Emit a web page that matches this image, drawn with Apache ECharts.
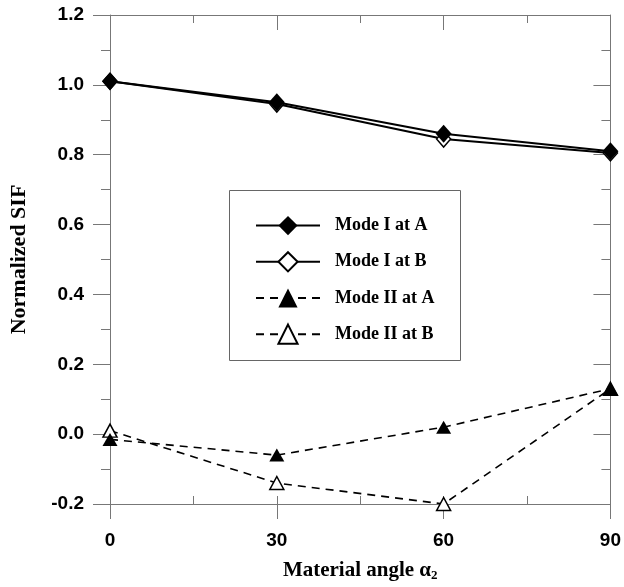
<!DOCTYPE html>
<html>
<head>
<meta charset="utf-8">
<script src="https://cdn.jsdelivr.net/npm/echarts@6/dist/echarts.min.js"></script>
<style>
  html, body { margin: 0; padding: 0; background: #fff; }
  #chart { width: 624px; height: 587px; }
</style>
</head>
<body>
<div id="chart"></div>
<script>
// material angle alpha2 (deg)
const angles = [0, 30, 60, 90];
// normalized SIF values
const modeIA = [1.01, 0.95, 0.86, 0.81];
const modeIB = [1.01, 0.945, 0.845, 0.805];
const modeIIA = [-0.015, -0.06, 0.02, 0.13];
const modeIIB = [0.01, -0.14, -0.2, 0.13];
const seriesNames = ['Mode I at A', 'Mode I at B', 'Mode II at A', 'Mode II at B'];

const axisColor = '#777';
const pairs = (ys) => angles.map((x, i) => [x, ys[i]]);

// one axis per tick style (major out / minor in etc.)
const xAx = (pos, interval, inside, len, showLabel, showLine) => ({
  type: 'value', position: pos, min: 0, max: 90, interval: interval,
  axisLine: { show: showLine, onZero: false, lineStyle: { color: axisColor, width: 1 } },
  axisTick: { show: true, inside: inside, length: len, lineStyle: { color: axisColor } },
  axisLabel: { show: showLabel, margin: 27, color: '#000', fontFamily: 'Liberation Sans', fontWeight: 'bold', fontSize: 19 },
  splitLine: { show: false }
});
const yAx = (pos, interval, inside, len, showLabel, showLine) => ({
  type: 'value', position: pos, min: -0.2, max: 1.2, interval: interval,
  axisLine: { show: showLine, onZero: false, lineStyle: { color: axisColor, width: 1 } },
  axisTick: { show: true, inside: inside, length: len, lineStyle: { color: axisColor } },
  axisLabel: { show: showLabel, margin: 26, color: '#000', fontFamily: 'Liberation Sans', fontWeight: 'bold', fontSize: 19,
    formatter: (v) => v.toFixed(1) },
  splitLine: { show: false }
});

const xAxes = [
  Object.assign(xAx('bottom', 30, false, 15, true, true), {
    name: '{t|Material angle α}{s|2}', nameLocation: 'middle', nameGap: 56,
    nameTextStyle: { rich: {
      t: { fontFamily: 'Liberation Serif', fontWeight: 'bold', fontSize: 21, color: '#000' },
      s: { fontFamily: 'Liberation Serif', fontWeight: 'bold', fontSize: 13, color: '#000', padding: [9, 0, 0, 0] }
    } }
  }),
  xAx('bottom', 15, true, 8, false, false),
  xAx('top', 30, true, 15, false, true),
  xAx('top', 15, true, 8, false, false)
];
const yAxes = [
  Object.assign(yAx('left', 0.2, false, 17, true, true), {
    name: 'Normalized SIF', nameLocation: 'middle', nameGap: 80,
    nameTextStyle: { fontFamily: 'Liberation Serif', fontWeight: 'bold', fontSize: 22, color: '#000' }
  }),
  yAx('left', 0.1, false, 9, false, false),
  yAx('right', 0.2, true, 17, false, true),
  yAx('right', 0.1, true, 9, false, false)
];

const mk = (name, ys, symbol, filled, dashed, size) => ({
  name: name, type: 'line', data: pairs(ys),
  xAxisIndex: 0, yAxisIndex: 0,
  symbol: symbol, symbolSize: size, showAllSymbol: true,
  lineStyle: { color: '#000', width: dashed ? 1.6 : 2, type: dashed ? [8, 6] : 'solid' },
  itemStyle: { color: filled ? '#000' : '#fff', borderColor: '#000', borderWidth: filled ? 0 : 1.5, opacity: 1 },
  z: filled ? 4 : 3
});

const chart = echarts.init(document.getElementById('chart'));
chart.setOption({
  animation: false,
  backgroundColor: '#fff',
  grid: { left: 109, right: 12, top: 15, bottom: 78, containLabel: false },
  xAxis: xAxes,
  yAxis: yAxes,
  graphic: [{
    type: 'rect', left: 229, top: 190, z: 1,
    shape: { width: 231, height: 170 },
    style: { fill: '#fff', stroke: '#666', lineWidth: 1 }
  }],
  legend: {
    orient: 'vertical', left: 250, top: 211, z: 10,
    itemWidth: 64, itemHeight: 24, itemGap: 16,
    data: seriesNames,
    textStyle: { fontFamily: 'Liberation Serif', fontWeight: 'bold', fontSize: 18, color: '#000', padding: [0, 0, 0, 10] }
  },
  series: [
    mk(seriesNames[0], modeIA, 'diamond', true, false, [16, 18]),
    mk(seriesNames[1], modeIB, 'diamond', false, false, [14, 16]),
    mk(seriesNames[2], modeIIA, 'triangle', true, true, [15, 13]),
    mk(seriesNames[3], modeIIB, 'triangle', false, true, [14, 13])
  ]
});
</script>
</body>
</html>
